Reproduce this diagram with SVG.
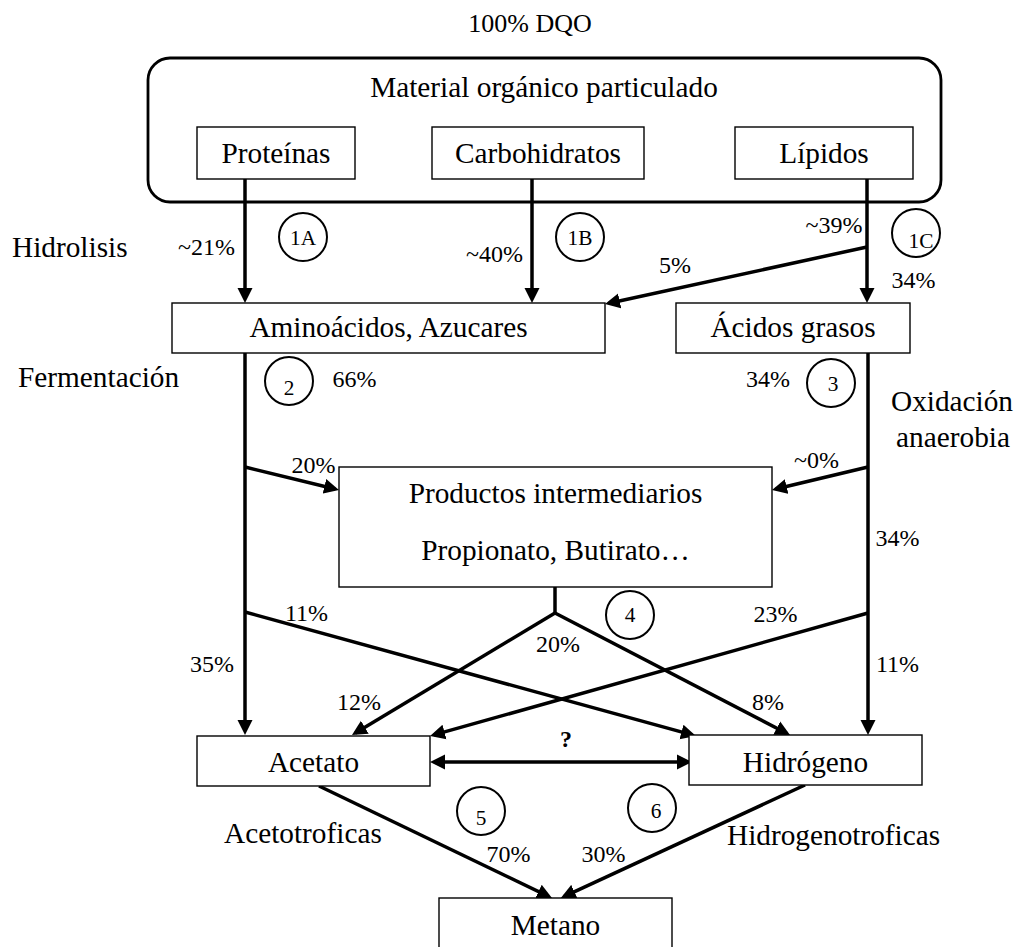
<svg xmlns="http://www.w3.org/2000/svg" width="1018" height="947" viewBox="0 0 1018 947">
<defs>
<style>
text{font-family:"Liberation Serif","Times New Roman",serif;fill:#000}
.t{font-size:29.3px}
.m{text-anchor:middle}
.l{font-size:24px}
.c{font-size:21.3px;text-anchor:middle}
.box{fill:#fff;stroke:#000;stroke-width:1.4}
.step{fill:none;stroke:#000;stroke-width:2}
.edge{fill:none;stroke:#000;stroke-width:3.5}
.arr{marker-end:url(#ah)}
</style>
<marker id="ah" markerUnits="userSpaceOnUse" markerWidth="16" markerHeight="16" viewBox="0 0 16 16" refX="11" refY="8" orient="auto-start-reverse"><path d="M0,0.5 L15,8 L0,15.5 z" fill="#000"/></marker>
</defs>
<rect width="1018" height="947" fill="#fff"/>

<text class="m" x="530" y="32" style="font-size:26px">100% DQO</text>

<g id="material">
<rect x="148" y="58" width="793" height="144" rx="22" fill="none" stroke="#000" stroke-width="2.8"/>
<text class="t m" x="544" y="97">Material orgánico particulado</text>
</g>
<g id="proteinas"><rect class="box" x="197" y="127" width="158" height="52"/><text class="t m" x="276" y="163">Proteínas</text></g>
<g id="carbohidratos"><rect class="box" x="432" y="127" width="212" height="52"/><text class="t m" x="538" y="163">Carbohidratos</text></g>
<g id="lipidos"><rect class="box" x="735" y="127" width="178" height="52"/><text class="t m" x="824" y="163">Lípidos</text></g>

<g id="connectors">
<line class="edge arr" x1="245" y1="179" x2="245" y2="299"/>
<line class="edge arr" x1="532" y1="179" x2="532" y2="299"/>
<line class="edge arr" x1="867" y1="179" x2="867" y2="299"/>
<line class="edge arr" x1="867" y1="247" x2="608.9" y2="303.2"/>
<line class="edge arr" x1="245" y1="353" x2="245" y2="731"/>
<line class="edge arr" x1="245" y1="467" x2="335.1" y2="489"/>
<line class="edge arr" x1="245" y1="612" x2="692.1" y2="734.9"/>
<line class="edge arr" x1="868" y1="353" x2="868" y2="731"/>
<line class="edge arr" x1="868" y1="467" x2="775.9" y2="489"/>
<line class="edge arr" x1="868" y1="613" x2="433.9" y2="734.9"/>
<line class="edge" x1="555" y1="587" x2="555" y2="614"/>
<line class="edge arr" x1="555" y1="613" x2="355.4" y2="732.9"/>
<line class="edge arr" x1="555" y1="613" x2="786.5" y2="733.2"/>
<line class="edge arr" x1="434" y1="762" x2="688" y2="762" marker-start="url(#ah)"/>
<line class="edge arr" x1="319" y1="786" x2="548.4" y2="896.3"/>
<line class="edge arr" x1="805" y1="785" x2="564.4" y2="896.3"/>
</g>

<g id="aminoacidos"><rect class="box" x="172" y="303" width="433" height="50"/><text class="t m" x="388.5" y="337">Aminoácidos, Azucares</text></g>
<g id="acidos"><rect class="box" x="676" y="303" width="234" height="50"/><text class="t m" x="793" y="337">Ácidos grasos</text></g>
<g id="productos"><rect class="box" x="339" y="467" width="433" height="120"/><text class="t m" x="555.5" y="503">Productos intermediarios</text><text class="t m" x="555.5" y="560">Propionato, Butirato…</text></g>
<g id="acetato"><rect class="box" x="197" y="736" width="233" height="50"/><text class="t m" x="313.5" y="772">Acetato</text></g>
<g id="hidrogeno"><rect class="box" x="689" y="735" width="233" height="50"/><text class="t m" x="805.5" y="772">Hidrógeno</text></g>
<g id="metano"><rect class="box" x="439" y="898" width="233" height="60"/><text class="t m" x="555.5" y="935">Metano</text></g>

<g id="step-1A"><circle class="step" cx="303" cy="237" r="24"/><text class="c" x="303" y="245">1A</text></g>
<g id="step-1B"><circle class="step" cx="580" cy="237" r="24"/><text class="c" x="580" y="245">1B</text></g>
<g id="step-1C"><circle class="step" cx="916" cy="233" r="24"/><text class="c" x="921" y="248">1C</text></g>
<g id="step-2"><circle class="step" cx="289" cy="381" r="24"/><text class="c" x="289" y="395">2</text></g>
<g id="step-3"><circle class="step" cx="831" cy="383" r="24"/><text class="c" x="833" y="391">3</text></g>
<g id="step-4"><circle class="step" cx="630" cy="615" r="24"/><text class="c" x="630" y="622">4</text></g>
<g id="step-5"><circle class="step" cx="481" cy="811" r="24"/><text class="c" x="481" y="825">5</text></g>
<g id="step-6"><circle class="step" cx="652" cy="808" r="24"/><text class="c" x="656" y="818">6</text></g>

<g id="stage-labels">
<text class="t" x="12" y="257">Hidrolisis</text>
<text class="t" x="18" y="387">Fermentación</text>
<text class="t m" x="952" y="411">Oxidación</text>
<text class="t m" x="953" y="447">anaerobia</text>
<text class="t" x="224" y="843">Acetotroficas</text>
<text class="t" x="727" y="845">Hidrogenotroficas</text>
</g>

<g id="percent-labels" class="l">
<text class="l m" x="206.5" y="255">~21%</text>
<text class="l m" x="494.5" y="262">~40%</text>
<text class="l m" x="834" y="233">~39%</text>
<text class="l m" x="675" y="273">5%</text>
<text class="l m" x="913.5" y="288">34%</text>
<text class="l m" x="354.5" y="387">66%</text>
<text class="l m" x="768" y="387">34%</text>
<text class="l m" x="313.5" y="473">20%</text>
<text class="l m" x="816.5" y="468">~0%</text>
<text class="l m" x="897.5" y="546">34%</text>
<text class="l m" x="306.5" y="621">11%</text>
<text class="l m" x="775.5" y="622">23%</text>
<text class="l m" x="558" y="652">20%</text>
<text class="l m" x="212" y="672">35%</text>
<text class="l m" x="897.5" y="672">11%</text>
<text class="l m" x="359" y="710">12%</text>
<text class="l m" x="768" y="710">8%</text>
<text class="l m" x="566" y="747" style="font-weight:bold">?</text>
<text class="l m" x="508.5" y="862">70%</text>
<text class="l m" x="603.5" y="862">30%</text>
</g>
</svg>
